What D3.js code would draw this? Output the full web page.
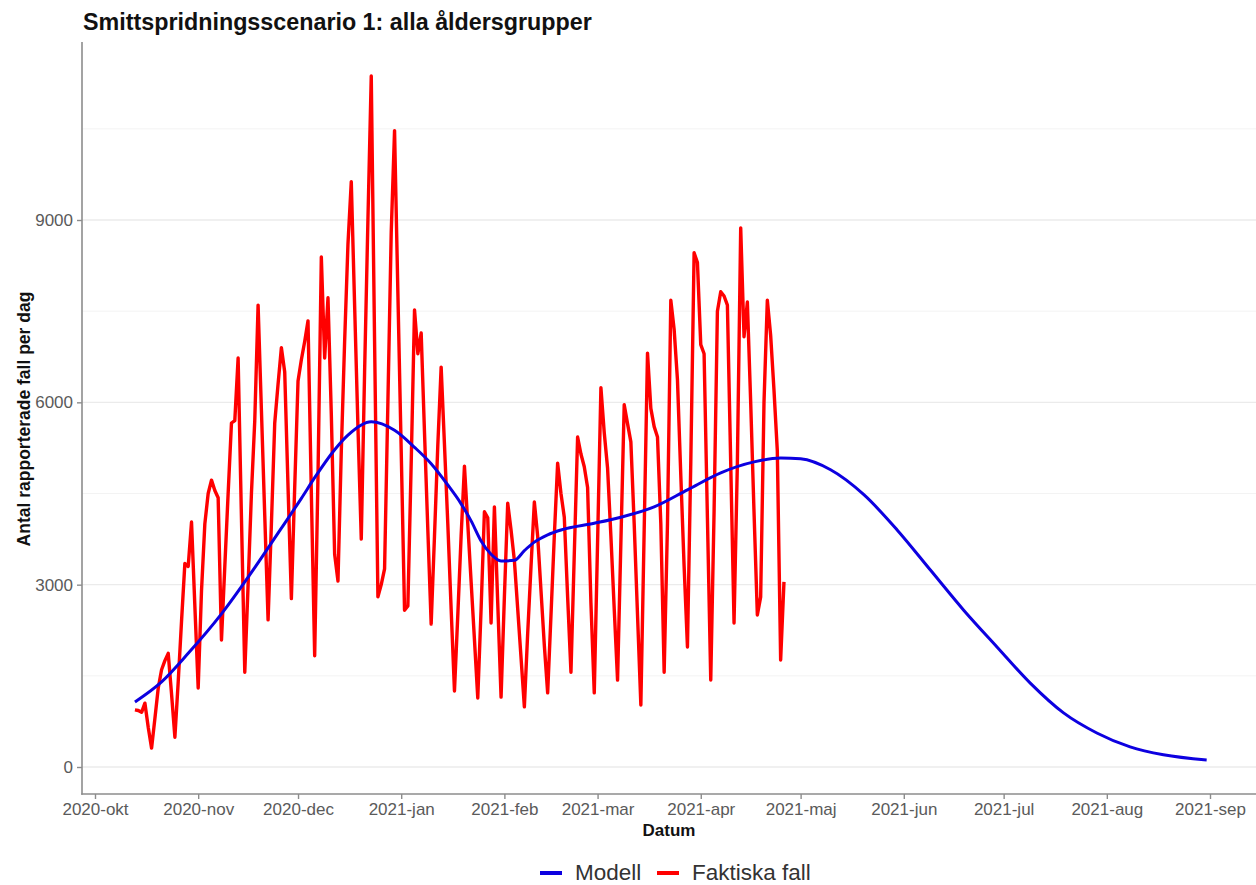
<!DOCTYPE html>
<html><head><meta charset="utf-8">
<script src="https://cdn.jsdelivr.net/npm/d3@7"></script>
<style>
body{margin:0;background:#fff}
svg{display:block;font-family:"Liberation Sans",Arial,Helvetica,sans-serif}
</style>
</head><body>
<svg id="chart" width="1256" height="885"></svg>
<script>
// ---------- data ----------
const faktiskaStart = "2020-10-13"; // first day of the daily series
const faktiskaFall = [
  940, 930, 900,1050, 650, 310, 800,1300,1600,1750,1870,1200, 490,1400,
 2400,3350,3300,4030,2650,1300,2900,4000,4500,4720,4550,4430,2090,3300,
 4500,5660,5700,6730,4100,1560,3000,4500,5700,7600,5870,4140,2420,4000,
 5660,6300,6900,6500,4600,2770,4600,6350,6700,7000,7340,4500,1830,4800,
 8390,6730,7720,5800,3500,3060,5200,7000,8600,9630,7600,5600,3750,6500,
 9000,11370,7000,2800,3000,3260,6000,8800,10470,7800,5200,2580,2650,5000,
 7520,6800,7140,5500,3900,2350,3800,5300,6580,5300,4000,2600,1250,2500,
 3800,4950,4000,3050,2100,1135,2600,4200,4100,2370,4280,2700,1150,2800,
 4340,3900,3400,2600,1800, 990,2200,3300,4360,3800,2900,2000,1220,2500,
 3800,5000,4500,4110,2800,1560,3500,5430,5150,4940,4600,2700,1220,3700,
 6240,5500,4920,3800,2600,1430,3700,5960,5650,5350,4000,2500,1020,3900,
 6810,5900,5600,5430,4000,1560,4000,7680,7200,6370,4800,3300,1975,5000,
 8460,8300,6950,6800,4100,1430,4200,7500,7820,7750,7600,5000,2370,5000,
 8870,7080,7650,6000,4200,2500,2800,6000,7680,7100,6200,5200,1760,3045
];
const modellDates = [
 "2020-10-13","2020-10-21","2020-10-29","2020-11-08","2020-11-18","2020-11-26",
 "2020-12-02","2020-12-06","2020-12-12","2020-12-16","2020-12-23","2020-12-30",
 "2021-01-05","2021-01-10","2021-01-15","2021-01-19","2021-01-22","2021-01-25",
 "2021-01-28","2021-01-31","2021-02-04","2021-02-07","2021-02-10","2021-02-14",
 "2021-02-18","2021-02-28","2021-03-08","2021-03-18","2021-03-28","2021-04-07",
 "2021-04-17","2021-04-25","2021-05-01","2021-05-10","2021-05-20","2021-05-30",
 "2021-06-09","2021-06-19","2021-06-29","2021-07-09","2021-07-19","2021-07-29",
 "2021-08-08","2021-08-18","2021-08-31"
];
const modellValues = [
 1070,1400,1870,2520,3280,3930,
 4420,4760,5220,5460,5680,5540,
 5260,4990,4640,4330,4050,3720,
 3500,3390,3400,3560,3700,3820,
 3900,4010,4110,4280,4560,4840,
 5020,5085,5070,4890,4480,3900,
 3240,2580,1975,1380, 890, 560,
  330, 200, 115
];
const yTicks = [0, 3000, 6000, 9000];
const yMinorTicks = [1500, 4500, 7500, 10500];
const xTickLabels = ["2020-okt","2020-nov","2020-dec","2021-jan","2021-feb","2021-mar",
                     "2021-apr","2021-maj","2021-jun","2021-jul","2021-aug","2021-sep"];
const seriesNames = ["Modell", "Faktiska fall"];
const seriesColors = ["#0d00e0", "#ff0000"];
const titleText = "Smittspridningsscenario 1: alla åldersgrupper";
const xTitle = "Datum";
const yTitle = "Antal rapporterade fall per dag";

// ---------- build ----------
const parse = d3.utcParse("%Y-%m-%d");
const day0 = parse(faktiskaStart);
const faktiska = faktiskaFall.map((v, i) => ({date: d3.utcDay.offset(day0, i), value: v}));
const modell = modellDates.map((d, i) => ({date: parse(d), value: modellValues[i]}));

const svg = d3.select("#chart");
const panel = {left: 82, right: 1256, top: 42, bottom: 794};

const x = d3.scaleUtc()
  .domain([parse("2020-10-01"), parse("2021-09-01")])
  .range([95, 1210]);
const y = d3.scaleLinear().domain([0, 9000]).range([767, 220]);

// grid
svg.append("g").selectAll("line").data(yMinorTicks).join("line")
  .attr("x1", panel.left).attr("x2", panel.right)
  .attr("y1", d => y(d)).attr("y2", d => y(d))
  .attr("stroke", "#f3f3f3").attr("stroke-width", 1);
svg.append("g").selectAll("line").data(yTicks).join("line")
  .attr("x1", panel.left).attr("x2", panel.right)
  .attr("y1", d => y(d)).attr("y2", d => y(d))
  .attr("stroke", "#ebebeb").attr("stroke-width", 1.3);

// lines
const line = d3.line().x(d => x(d.date)).y(d => y(d.value));
svg.append("path").datum(faktiska)
  .attr("fill", "none").attr("stroke", seriesColors[1])
  .attr("stroke-width", 3.4).attr("stroke-linejoin", "round")
  .attr("d", line);
svg.append("path").datum(modell)
  .attr("fill", "none").attr("stroke", seriesColors[0])
  .attr("stroke-width", 3).attr("stroke-linejoin", "round")
  .attr("d", line.curve(d3.curveMonotoneX));

// axes
const months = d3.utcMonth.range(parse("2020-10-01"), parse("2021-09-02"));
const xAxis = d3.axisBottom(x).tickValues(months)
  .tickFormat((d, i) => xTickLabels[i]).tickSize(5).tickPadding(4);
const gx = svg.append("g").attr("transform", `translate(0,${panel.bottom})`).call(xAxis);
const yAxis = d3.axisLeft(y).tickValues(yTicks).tickFormat(d3.format("d"))
  .tickSize(5).tickPadding(4);
const gy = svg.append("g").attr("transform", `translate(${panel.left},0)`).call(yAxis);
[gx, gy].forEach(g => {
  g.select(".domain").remove();
  g.selectAll(".tick line").attr("stroke", "#8c8c8c").attr("stroke-width", 1.4);
  g.selectAll(".tick text").attr("fill", "#5a5a5a").style("font-size", "17px")
    .style("font-family", '"Liberation Sans",Arial,sans-serif');
});
// axis lines
svg.append("line").attr("x1", panel.left).attr("x2", panel.left)
  .attr("y1", panel.top).attr("y2", panel.bottom + 0.7)
  .attr("stroke", "#8c8c8c").attr("stroke-width", 1.6);
svg.append("line").attr("x1", panel.left - 0.8).attr("x2", panel.right)
  .attr("y1", panel.bottom).attr("y2", panel.bottom)
  .attr("stroke", "#8c8c8c").attr("stroke-width", 1.6);

// titles
svg.append("text").attr("x", 83).attr("y", 30)
  .attr("font-size", 23.3).attr("font-weight", "bold").attr("fill", "#111")
  .text(titleText);
svg.append("text").attr("x", (panel.left + panel.right) / 2).attr("y", 836)
  .attr("text-anchor", "middle").attr("font-size", 17).attr("font-weight", "bold")
  .attr("fill", "#111").text(xTitle);
svg.append("text").attr("transform", "translate(30,419) rotate(-90)")
  .attr("text-anchor", "middle").attr("font-size", 17.5).attr("font-weight", "bold")
  .attr("fill", "#111").text(yTitle);

// legend
const lg = svg.append("g");
const keyX = [540, 657], textX = [575, 692];
seriesNames.forEach((name, i) => {
  lg.append("line").attr("x1", keyX[i]).attr("x2", keyX[i] + 22)
    .attr("y1", 873).attr("y2", 873)
    .attr("stroke", seriesColors[i]).attr("stroke-width", 4);
  lg.append("text").attr("x", textX[i]).attr("y", 880)
    .attr("font-size", 22.5).attr("fill", "#333").text(name);
});
</script>
</body></html>
